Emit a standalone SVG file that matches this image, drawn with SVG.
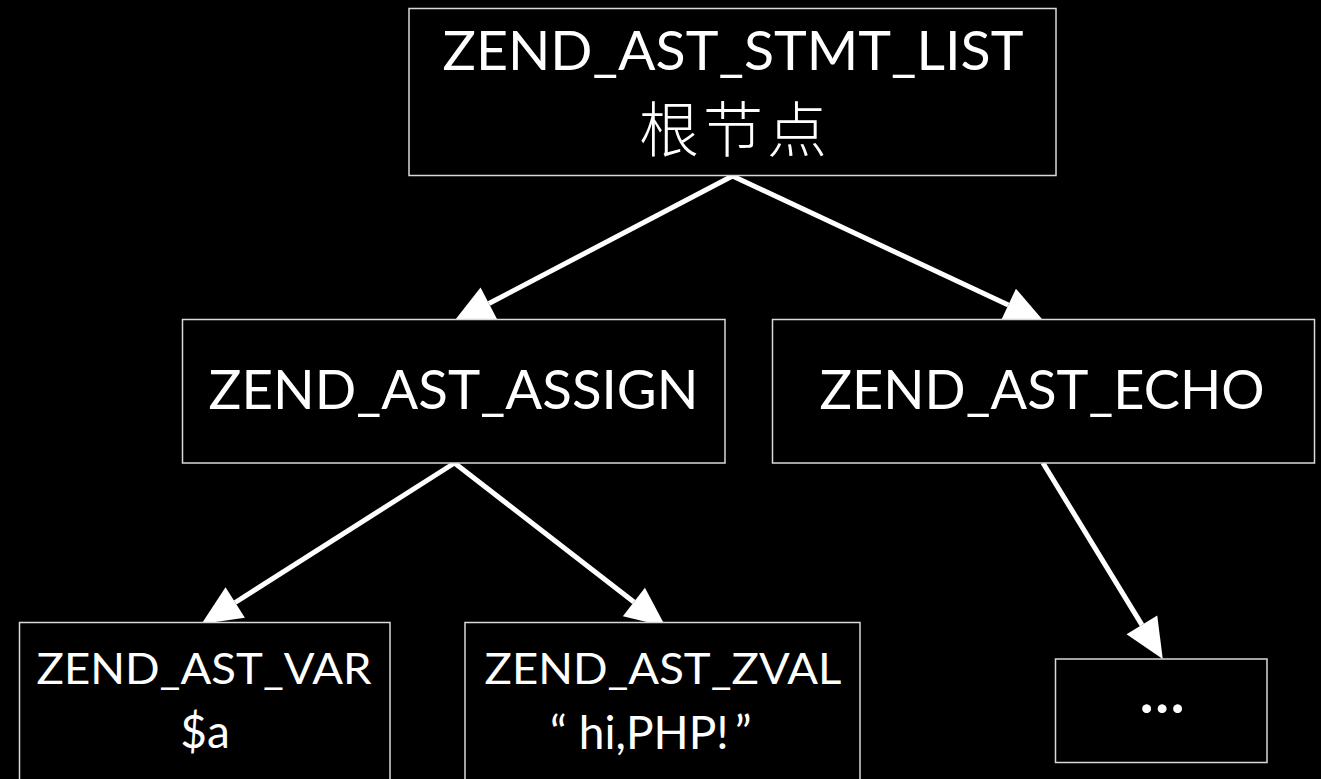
<svg xmlns="http://www.w3.org/2000/svg" width="1321" height="779" viewBox="0 0 1321 779">
  <defs>
    <style>
      .box { fill: #000000; stroke: #d9d9d9; stroke-width: 1.5; }
      .lbl { fill: #ffffff; font-family: Lato, "Liberation Sans", "Noto Sans CJK SC", sans-serif; font-weight: 400; text-anchor: middle; }
      .big { font-size: 55px; }
      .small { font-size: 43px; }
      .value { font-size: 46px; }
      .dots { font-size: 58px; font-weight: 700; }
      .cjk { fill: #ffffff; font-family: "Noto Sans CJK SC", sans-serif; font-size: 60px; font-weight: 300; text-anchor: middle; letter-spacing: 4px; }
      .edge { stroke: #ffffff; stroke-width: 5; fill: none; marker-end: url(#head); }
    </style>
    <marker id="head" markerUnits="userSpaceOnUse" markerWidth="40" markerHeight="36" refX="0" refY="18" orient="auto" overflow="visible">
      <path d="M0,0 L40,18 L0,36 Z" fill="#ffffff"/>
    </marker>
  </defs>

  <rect x="0" y="0" width="1321" height="779" fill="#000000"/>

  <!-- parent-to-child links, drawn under the boxes -->
  <g id="connectors">
    <line class="edge" x1="732.5" y1="176" x2="488.9" y2="303.5"/>
    <line class="edge" x1="732.5" y1="176" x2="1008.3" y2="305"/>
    <line class="edge" x1="454.5" y1="463" x2="235.2" y2="602.5"/>
    <line class="edge" x1="454.5" y1="463" x2="633.9" y2="602"/>
    <line class="edge" x1="1043" y1="463" x2="1141.9" y2="624.9"/>
  </g>

  <g id="stmt_list">
    <rect class="box" x="409" y="8.5" width="647" height="167"/>
    <text class="lbl big" x="733" y="69.5" textLength="581" lengthAdjust="spacingAndGlyphs">ZEND_AST_STMT_LIST</text>
    <text class="cjk" x="735" y="152">根节点</text>
  </g>

  <g id="assign">
    <rect class="box" x="182.5" y="319.5" width="542.5" height="143.5"/>
    <text class="lbl big" x="453.5" y="409" textLength="490" lengthAdjust="spacingAndGlyphs">ZEND_AST_ASSIGN</text>
  </g>

  <g id="echo">
    <rect class="box" x="772.5" y="319.5" width="542" height="143.5"/>
    <text class="lbl big" x="1042" y="409" textLength="445" lengthAdjust="spacingAndGlyphs">ZEND_AST_ECHO</text>
  </g>

  <g id="var">
    <rect class="box" x="19.5" y="622.5" width="370.5" height="200"/>
    <text class="lbl small" x="204" y="683.5" textLength="335" lengthAdjust="spacingAndGlyphs">ZEND_AST_VAR</text>
    <text class="lbl value" x="205" y="748">$a</text>
  </g>

  <g id="zval">
    <rect class="box" x="465" y="622.5" width="395" height="200"/>
    <text class="lbl small" x="663" y="683.5" textLength="357" lengthAdjust="spacingAndGlyphs">ZEND_AST_ZVAL</text>
    <text class="lbl value" x="550" y="749" style="text-anchor:start">“<tspan dx="12">hi,PHP!</tspan><tspan dx="6">”</tspan></text>
  </g>

  <g id="more">
    <rect class="box" x="1055.5" y="659" width="211.5" height="103.5"/>
    <text class="lbl dots" x="1162" y="713">…</text>
  </g>
</svg>
